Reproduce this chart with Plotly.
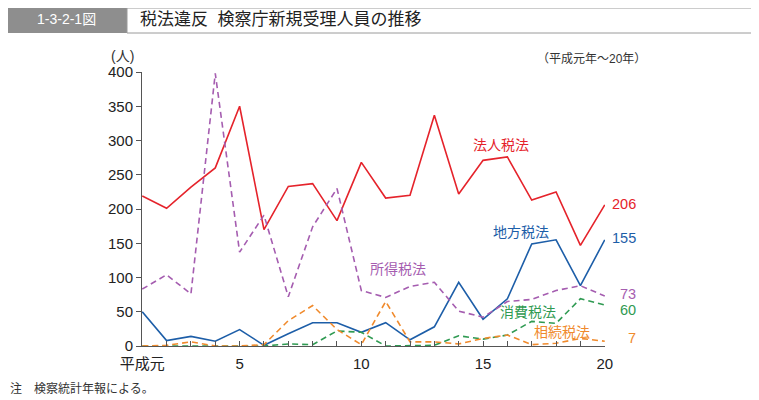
import plotly.graph_objects as go

# 平成元年～20年
years = list(range(1, 21))
houjin = [219, 201, 232, 260, 350, 170, 233, 237, 183, 268, 216, 220, 337, 222, 271, 276, 213, 225, 147, 206]
chihou = [50, 8, 14, 7, 24, 1, 18, 34, 34, 20, 34, 9, 28, 93, 39, 69, 149, 155, 88, 155]
shotoku = [83, 104, 76, 398, 137, 191, 72, 174, 230, 81, 71, 87, 93, 51, 42, 65, 68, 81, 88, 73]
shouhi = [0, 0, 0, 0, 0, 0, 3, 2, 22, 20, 0, 0, 1, 15, 10, 16, 36, 33, 69, 60]
souzoku = [0, 1, 6, 0, 0, 2, 37, 59, 24, 2, 65, 6, 6, 3, 11, 16, 2, 4, 11, 7]

tick_text = ["平成元" if y == 1 else (str(y) if y % 5 == 0 else "") for y in years]

JP = "Liberation Sans, Noto Sans CJK JP"
RED, BLUE, PURPLE, GREEN, ORANGE = "#e5232b", "#1d5ea8", "#a55db0", "#2f9a52", "#f08a2c"

series = [
    ("法人税法", houjin, RED, "solid"),
    ("地方税法", chihou, BLUE, "solid"),
    ("所得税法", shotoku, PURPLE, "6px,4px"),
    ("消費税法", shouhi, GREEN, "6px,4px"),
    ("相続税法", souzoku, ORANGE, "6px,4px"),
]

fig = go.Figure()
for name, vals, col, dash in series:
    fig.add_trace(go.Scatter(x=years, y=vals, mode="lines", name=name,
                             line=dict(color=col, width=1.6, dash=dash)))

# page has an 8px body margin, so the figure starts at page (8, 8)
OFF = 8
W, H = 759 - OFF, 400 - OFF
# plot area on the page: x 142..605, y 72..346
L, R, T, B = 142, 605, 72, 346
def px(x): return (x - L) / (R - L)
def py(y): return (B - y) / (B - T)

ann = []
for text, x, y, col in [("法人税法", 15.73, 294, RED),
                        ("地方税法", 16.55, 167, BLUE),
                        ("所得税法", 11.5, 112, PURPLE),
                        ("消費税法", 16.85, 50, GREEN),
                        ("相続税法", 18.25, 21, ORANGE)]:
    ann.append(dict(x=x, y=y, xref="x", yref="y", text=text, showarrow=False,
                    xanchor="center", yanchor="middle",
                    font=dict(size=14, color=col, family=JP)))
for text, y, col in [("206", 208, RED), ("155", 158, BLUE),
                     ("73", 76, PURPLE), ("60", 53, GREEN), ("7", 11, ORANGE)]:
    ann.append(dict(x=20, y=y, xref="x", yref="y", text=text, showarrow=False,
                    xanchor="right", yanchor="middle", xshift=33,
                    font=dict(size=14.5, color=col, family=JP)))

def page_text(x, y, text, size, color, anchor="center"):
    ann.append(dict(x=px(x), y=py(y), xref="paper", yref="paper", text=text,
                    showarrow=False, xanchor=anchor, yanchor="middle",
                    font=dict(size=size, color=color, family=JP)))

page_text(122, 56, "(人)", 14, "#333")
page_text(591, 59, "（平成元年～20年）", 12, "#333")
page_text(8, 388, "注　検察統計年報による。", 12, "#333", "left")
page_text(66, 19, "1-3-2-1図", 14, "white")
page_text(138, 19, "税法違反&nbsp;&nbsp;検察庁新規受理人員の推移", 17, "#222", "left")

shapes = [
    dict(type="rect", xref="paper", yref="paper", x0=px(8), x1=px(127), y0=py(33), y1=py(8),
         fillcolor="#8e8e8e", line=dict(width=0)),
    dict(type="rect", xref="paper", yref="paper", x0=px(127), x1=px(752), y0=py(33), y1=py(8),
         fillcolor="white", line=dict(color="#9a9a9a", width=1)),
]

fig.update_layout(
    width=W, height=H,
    margin=dict(l=L - OFF, r=W - (R - OFF), t=T - OFF, b=H - (B - OFF)),
    paper_bgcolor="white", plot_bgcolor="white",
    showlegend=False,
    font=dict(family=JP, size=15, color="#222"),
    annotations=ann, shapes=shapes,
    xaxis=dict(range=[0.99, 20.01], tickvals=years, ticktext=tick_text,
               ticks="inside", ticklen=5, tickcolor="#555", showline=True,
               linecolor="#555", linewidth=1, showgrid=False, zeroline=False,
               ticklabelstandoff=4, tickfont=dict(size=15)),
    yaxis=dict(range=[0, 400], dtick=50, ticks="outside", ticklen=5, tickcolor="#555",
               showline=True, linecolor="#555", linewidth=1, showgrid=False,
               zeroline=False, tickfont=dict(size=15)),
)

fig.write_html("out.html")
